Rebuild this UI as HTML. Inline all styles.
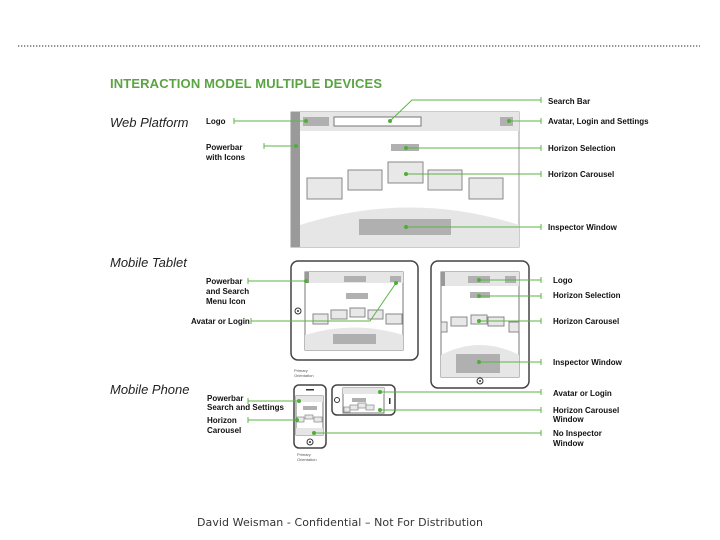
<!DOCTYPE html>
<html><head><style>
body{margin:0;background:#fff;width:720px;height:540px;overflow:hidden;font-family:"Liberation Sans",sans-serif}
svg{display:block}
.l{font:bold 8px "Liberation Sans",sans-serif;fill:#111}
.h{font:italic 13px "Liberation Sans",sans-serif;fill:#222}
</style></head><body>
<svg width="720" height="540" xmlns="http://www.w3.org/2000/svg">
<line x1="18" y1="46" x2="700" y2="46" stroke="#555" stroke-width="1.3" stroke-dasharray="1.3,1.7"/>
<text x="110" y="88" style="font:bold 13px 'Liberation Sans',sans-serif;fill:#5aa442" textLength="272">INTERACTION MODEL  MULTIPLE DEVICES</text>
<text class="h" x="110" y="127">Web Platform</text>
<text class="h" x="110" y="267">Mobile Tablet</text>
<text class="h" x="110" y="394">Mobile Phone</text>
<text x="197" y="526" style="font:11px 'DejaVu Sans',sans-serif;fill:#333" textLength="286">David Weisman - Confidential – Not For Distribution</text>

<!-- web platform -->
<rect x="291" y="112" width="228" height="135" fill="#fff" stroke="#999"/>
<path d="M300 225 Q410 190 519 225 L519 247 L300 247 Z" fill="#e6e6e6"/>
<rect x="291" y="112" width="228" height="19" fill="#e6e6e6"/>
<rect x="291" y="112" width="9" height="135" fill="#9a9a9a"/>
<rect x="303" y="117" width="26" height="9" fill="#b0b0b0"/>
<rect x="334" y="117" width="87" height="9" fill="#fff" stroke="#777"/>
<rect x="500" y="117" width="13" height="9" fill="#b0b0b0"/>
<rect x="391" y="144" width="28" height="7" fill="#b0b0b0"/>
<g fill="#e8e8e8" stroke="#888">
<rect x="307" y="178" width="35" height="21"/><rect x="348" y="170" width="34" height="20"/><rect x="388" y="162" width="35" height="21"/><rect x="428" y="170" width="34" height="20"/><rect x="469" y="178" width="34" height="21"/>
</g>
<rect x="359" y="219" width="92" height="16" fill="#b0b0b0"/>

<!-- tablet landscape -->
<rect x="291" y="261" width="127" height="99" rx="7" fill="#fff" stroke="#444" stroke-width="1.5"/>
<rect x="305" y="272" width="98" height="78" fill="#fff" stroke="#777"/>
<path d="M305 335 Q354 320 403 335 L403 350 L305 350 Z" fill="#e6e6e6"/>
<rect x="305" y="272" width="98" height="11" fill="#e6e6e6"/>
<rect x="305" y="272" width="4" height="11" fill="#999"/>
<rect x="344" y="276" width="22" height="6" fill="#b0b0b0"/><rect x="390" y="276" width="11" height="6" fill="#b0b0b0"/>
<rect x="346" y="293" width="22" height="6" fill="#b0b0b0"/>
<g fill="#e8e8e8" stroke="#888"><rect x="313" y="314" width="15" height="10"/><rect x="331" y="310" width="16" height="9"/><rect x="350" y="308" width="15" height="9"/><rect x="368" y="310" width="15" height="9"/><rect x="386" y="314" width="16" height="10"/></g>
<rect x="333" y="334" width="43" height="10" fill="#b0b0b0"/>
<circle cx="298" cy="311" r="3" fill="none" stroke="#333"/><circle cx="298" cy="311" r="1" fill="#333"/>
<text x="294" y="372" style="font:4px sans-serif;fill:#555">Primary</text><text x="294" y="377" style="font:4px sans-serif;fill:#555">Orientation</text>

<!-- tablet portrait -->
<rect x="431" y="261" width="98" height="127" rx="7" fill="#fff" stroke="#444" stroke-width="1.5"/>
<rect x="441" y="272" width="78" height="105" fill="#fff" stroke="#777"/>
<path d="M441 355 Q480 335 519 355 L519 377 L441 377 Z" fill="#e6e6e6"/>
<rect x="441" y="272" width="78" height="14" fill="#e6e6e6"/>
<rect x="441" y="272" width="4" height="14" fill="#999"/>
<rect x="468" y="276" width="22" height="7" fill="#b0b0b0"/><rect x="505" y="276" width="11" height="7" fill="#b0b0b0"/>
<rect x="470" y="292" width="20" height="6" fill="#b0b0b0"/>
<g fill="#e8e8e8" stroke="#888"><rect x="441" y="322" width="6" height="10"/><rect x="451" y="317" width="16" height="9"/><rect x="471" y="315" width="16" height="9"/><rect x="488" y="317" width="16" height="9"/><rect x="509" y="322" width="10" height="10"/></g>
<rect x="456" y="354" width="44" height="19" fill="#b0b0b0"/>
<circle cx="480" cy="381" r="3" fill="none" stroke="#333"/><circle cx="480" cy="381" r="1" fill="#333"/>

<!-- phone portrait -->
<rect x="294" y="385" width="32" height="63" rx="5" fill="#fff" stroke="#444" stroke-width="1.5"/>
<rect x="296" y="396" width="27" height="39" fill="#fff" stroke="#777"/>
<rect x="296" y="396" width="27" height="6" fill="#e6e6e6"/>
<rect x="306" y="389" width="8" height="1.5" fill="#333"/>
<rect x="303" y="406" width="14" height="4" fill="#b0b0b0"/>
<g fill="#e8e8e8" stroke="#888" stroke-width=".7"><rect x="297" y="417" width="7" height="5"/><rect x="305" y="415" width="8" height="4"/><rect x="314" y="417" width="8" height="5"/></g>
<rect x="296" y="428" width="27" height="7" fill="#e6e6e6"/>
<circle cx="310" cy="442" r="3" fill="none" stroke="#333"/><circle cx="310" cy="442" r="1" fill="#333"/>
<text x="297" y="456" style="font:4px sans-serif;fill:#555">Primary</text><text x="297" y="461" style="font:4px sans-serif;fill:#555">Orientation</text>

<!-- phone landscape -->
<rect x="332" y="385" width="63" height="30" rx="5" fill="#fff" stroke="#444" stroke-width="1.5"/>
<rect x="343" y="388" width="41" height="25" fill="#fff" stroke="#777"/>
<rect x="343" y="388" width="41" height="6" fill="#e6e6e6"/>
<rect x="352" y="398" width="14" height="4" fill="#b0b0b0"/>
<g fill="#e8e8e8" stroke="#888" stroke-width=".7"><rect x="344" y="407" width="6" height="5"/><rect x="350" y="405" width="8" height="5"/><rect x="358" y="403" width="8" height="5"/><rect x="366" y="405" width="8" height="5"/></g>
<circle cx="337" cy="400" r="2.5" fill="none" stroke="#333"/>
<rect x="389" y="398" width="1.5" height="6" fill="#333"/>

<!-- connectors -->
<g stroke="#5cb545" stroke-width="1" fill="none">
<path d="M234 121 H306"/><path d="M234 118v6"/>
<path d="M264 146 H296"/><path d="M264 143v6"/>
<path d="M390 121 L412 100 H541"/><path d="M541 97v6"/>
<path d="M509 121 H541"/><path d="M541 118v6"/>
<path d="M406 148 H541"/><path d="M541 145v6"/>
<path d="M406 174 H541"/><path d="M541 171v6"/>
<path d="M406 227 H541"/><path d="M541 224v6"/>
<path d="M248 281 H306"/><path d="M248 278v6"/>
<path d="M251 321 H370 L396 283"/><path d="M251 318v6"/>
<path d="M479 280 H541"/><path d="M541 277v6"/>
<path d="M479 296 H541"/><path d="M541 293v6"/>
<path d="M479 321 H541"/><path d="M541 318v6"/>
<path d="M479 362 H541"/><path d="M541 359v6"/>
<path d="M380 392 H541"/><path d="M541 389v6"/>
<path d="M380 410 H541"/><path d="M541 407v6"/>
<path d="M314 433 H541"/><path d="M541 430v6"/>
<path d="M248 401 H299"/><path d="M248 398v6"/>
<path d="M248 420 H297"/><path d="M248 417v6"/>
</g>
<g fill="#4fae38">
<circle cx="306" cy="121" r="2"/><circle cx="296" cy="146" r="2"/><circle cx="390" cy="121" r="2"/><circle cx="509" cy="121" r="2"/><circle cx="406" cy="148" r="2"/><circle cx="406" cy="174" r="2"/><circle cx="406" cy="227" r="2"/>
<circle cx="306" cy="281" r="2"/><circle cx="396" cy="283" r="2"/><circle cx="479" cy="280" r="2"/><circle cx="479" cy="296" r="2"/><circle cx="479" cy="321" r="2"/><circle cx="479" cy="362" r="2"/>
<circle cx="380" cy="392" r="2"/><circle cx="380" cy="410" r="2"/><circle cx="314" cy="433" r="2"/><circle cx="299" cy="401" r="2"/><circle cx="297" cy="420" r="2"/>
</g>

<!-- labels -->
<text class="l" x="206" y="124">Logo</text>
<text class="l" x="206" y="150">Powerbar</text><text class="l" x="206" y="160">with Icons</text>
<text class="l" x="548" y="104">Search Bar</text>
<text class="l" x="548" y="124">Avatar, Login and Settings</text>
<text class="l" x="548" y="151">Horizon Selection</text>
<text class="l" x="548" y="177">Horizon Carousel</text>
<text class="l" x="548" y="230">Inspector Window</text>
<text class="l" x="206" y="284">Powerbar</text><text class="l" x="206" y="294">and Search</text><text class="l" x="206" y="304">Menu Icon</text>
<text class="l" x="191" y="324">Avatar or Login</text>
<text class="l" x="553" y="283">Logo</text>
<text class="l" x="553" y="298">Horizon Selection</text>
<text class="l" x="553" y="324">Horizon Carousel</text>
<text class="l" x="553" y="365">Inspector Window</text>
<text class="l" x="207" y="401">Powerbar</text><text class="l" x="207" y="410">Search and Settings</text>
<text class="l" x="207" y="423">Horizon</text><text class="l" x="207" y="433">Carousel</text>
<text class="l" x="553" y="396">Avatar or Login</text>
<text class="l" x="553" y="413">Horizon Carousel</text><text class="l" x="553" y="422">Window</text>
<text class="l" x="553" y="436">No Inspector</text><text class="l" x="553" y="446">Window</text>
</svg>
</body></html>
